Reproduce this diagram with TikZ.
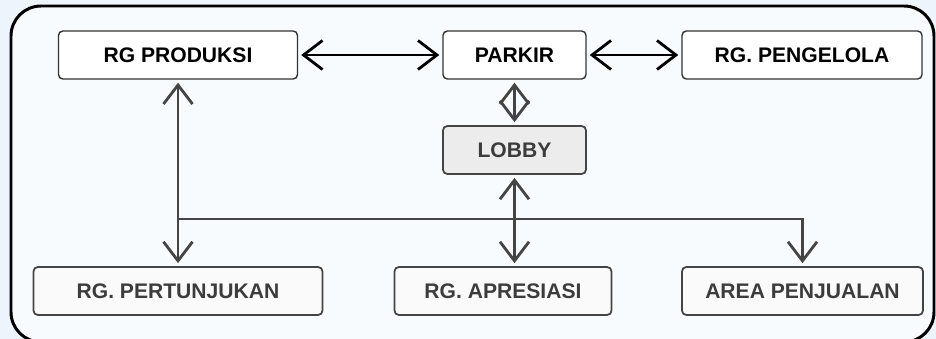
\documentclass[tikz,border=0pt]{standalone}
\usepackage{fontspec}
\setmainfont{Liberation Sans}
\usepackage{xcolor}
\definecolor{linegray}{RGB}{68,68,68}
\definecolor{textgray}{RGB}{60,60,60}
\definecolor{bgblue}{RGB}{238,244,251}
\definecolor{lobbyfill}{RGB}{236,236,236}
\usetikzlibrary{arrows.meta}

\tikzset{
  room/.style={draw=black!80, line width=0.8pt, rounded corners=2.5pt, fill=white,
    minimum height=0.96cm, inner sep=0pt, font=\fontsize{12}{14}\selectfont\bfseries},
  subroom/.style={room, draw=linegray, line width=1pt, text=textgray, fill=white!96!gray},
  link/.style={line width=1.6pt, {Straight Barb[length=3.8mm,width=5.8mm,line width=1.6pt]}-{Straight Barb[length=3.8mm,width=5.8mm,line width=1.6pt]},
    shorten <=0.06cm, shorten >=0.06cm},
  sublink/.style={link, draw=linegray},
}

\begin{document}
\begin{tikzpicture}
\useasboundingbox (0,0) rectangle (18.72,6.78);
\fill[bgblue] (0,0) rectangle (18.72,6.78);
% outer frame
\draw[line width=1.7pt, rounded corners=0.6cm, fill=white!60!bgblue] (0.22,-0.06) rectangle (18.68,6.66);

% upper row
\node[room, minimum width=4.78cm] (prod) at (3.56,5.68) {RG PRODUKSI};
\node[room, minimum width=2.86cm] (parkir) at (10.29,5.68) {PARKIR};
\node[room, minimum width=4.80cm] (kelola) at (16.04,5.68) {RG. PENGELOLA};
\node[subroom, minimum width=2.86cm, fill=lobbyfill] (lobby) at (10.29,3.78) {LOBBY};

% lower row
\node[subroom, minimum width=5.78cm] (tunjuk) at (3.56,0.96) {RG. PERTUNJUKAN};
\node[subroom, minimum width=4.34cm] (apres) at (10.06,0.96) {RG. APRESIASI};
\node[subroom, minimum width=4.82cm] (jual) at (16.05,0.96) {AREA PENJUALAN};

\coordinate (split) at (3.56,2.40);

% connectors
\draw[link] (prod) -- (parkir);
\draw[link] (parkir) -- (kelola);
\draw[sublink] (parkir) -- (lobby);
\draw[sublink] (prod) -- (tunjuk);
\draw[sublink] (lobby.south) -- (lobby.south |- apres.north);
\draw[sublink, {}-{Straight Barb[length=3.8mm,width=5.8mm,line width=1.6pt]}, shorten <=0pt] (split) -| (jual.north);
\end{tikzpicture}
\end{document}
